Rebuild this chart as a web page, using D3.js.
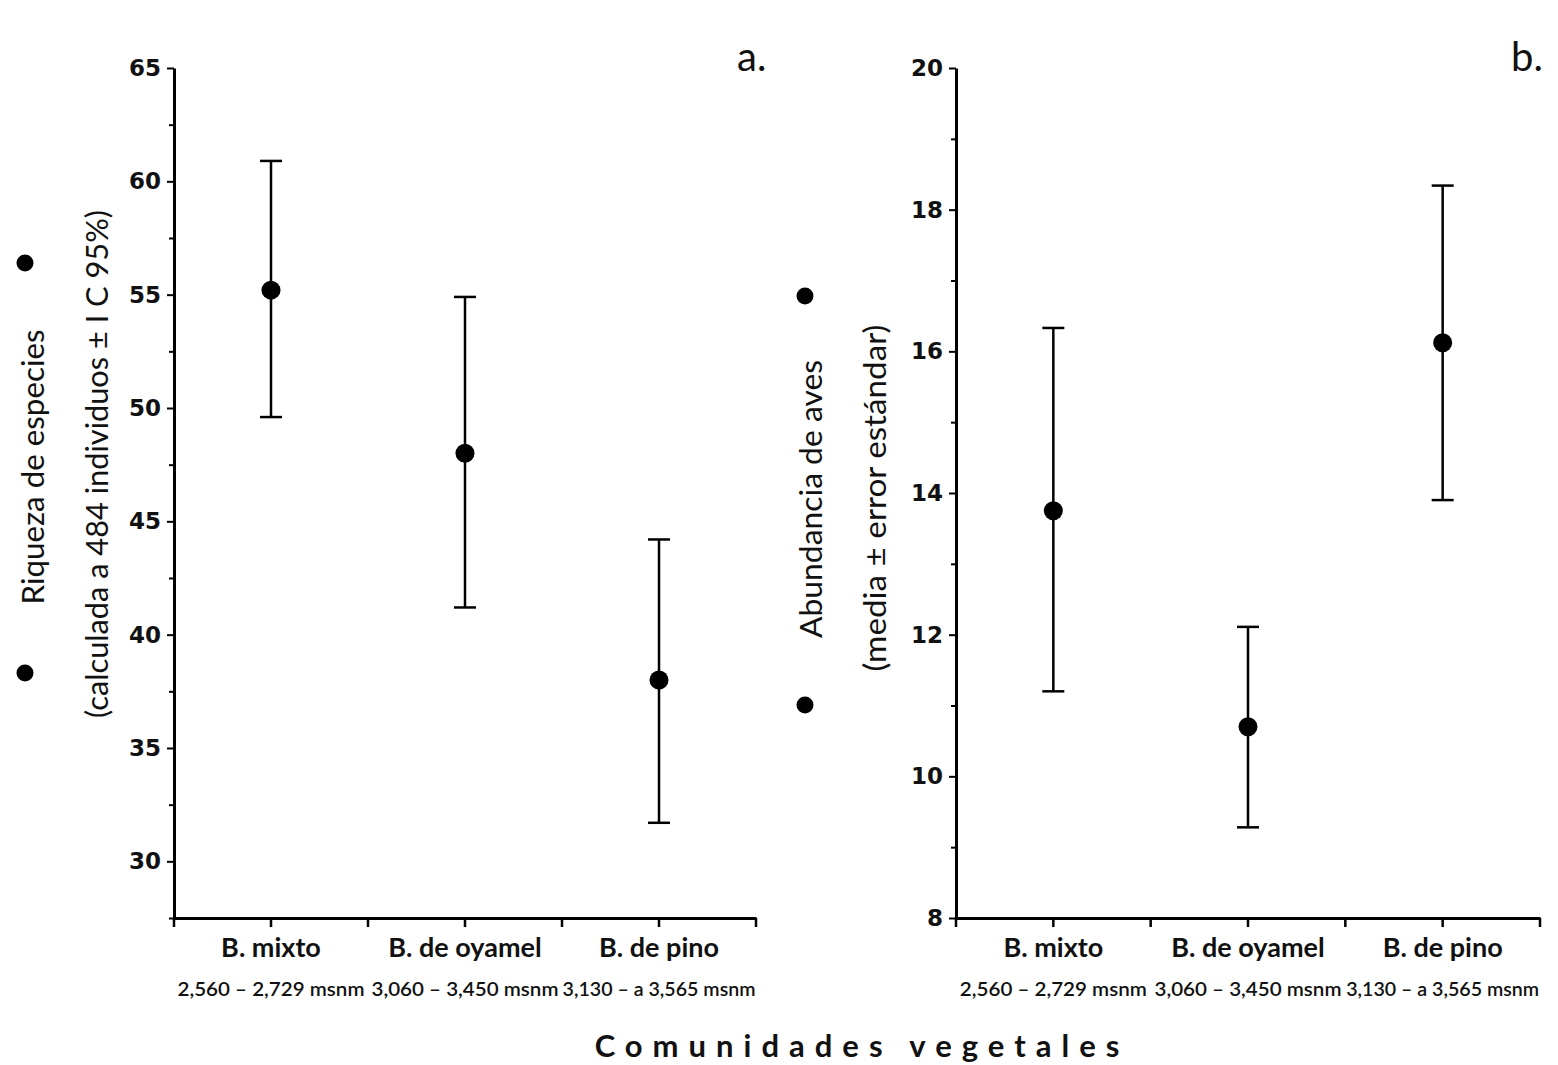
<!DOCTYPE html>
<html>
<head>
<meta charset="utf-8">
<script src="https://cdn.jsdelivr.net/npm/d3@7"></script>
<style>
  body { margin: 0; background: #fff; }
  svg { display: block; }
  .tick text { font-family: "DejaVu Sans", sans-serif; font-weight: bold; font-size: 23px; fill: #111; }
  .domain, .tick line { stroke: #000; }
</style>
</head>
<body>
<div id="chart"></div>
<script>
var width = 1558,
  height = 1065;

var categories = ["B. mixto", "B. de oyamel", "B. de pino"];
var elevations = ["2,560 – 2,729 msnm", "3,060 – 3,450 msnm", "3,130 – a 3,565 msnm"];

// panel a: riqueza (media, IC 95%)
var riquezaMean = [55.2, 48.0, 38.0];
var riquezaLow = [49.6, 41.2, 31.7];
var riquezaHigh = [60.9, 54.9, 44.2];
var riquezaTicks = [30, 35, 40, 45, 50, 55, 60, 65];
var riquezaMinor = [27.5, 32.5, 37.5, 42.5, 47.5, 52.5, 57.5, 62.5];

// panel b: abundancia (media ± EE)
var abundMean = [13.75, 10.7, 16.12];
var abundLow = [11.2, 9.28, 13.9];
var abundHigh = [16.33, 12.11, 18.34];
var abundTicks = [8, 10, 12, 14, 16, 18, 20];
var abundMinor = [9, 11, 13, 15, 17, 19];

var svg = d3.select("#chart").append("svg")
  .attr("width", width)
  .attr("height", height);

function drawPanel(opts) {
  var g = svg.append("g");

  var x = d3.scaleBand()
    .domain(categories)
    .range([opts.left, opts.right])
    .padding(0);

  var y = d3.scaleLinear()
    .domain(opts.domain)
    .range([918, 68]);

  // minor ticks first, then major with labels
  g.append("g")
    .attr("transform", "translate(" + opts.left + ",0)")
    .call(d3.axisLeft(y).tickValues(opts.minor).tickSize(5).tickFormat(""))
    .call(function (s) { s.select(".domain").remove(); })
    .selectAll("line").attr("stroke-width", 2);

  var yAxis = g.append("g")
    .attr("transform", "translate(" + opts.left + ",0)")
    .call(d3.axisLeft(y).tickValues(opts.ticks).tickSize(7).tickPadding(6).tickSizeOuter(0));
  yAxis.select(".domain").attr("stroke-width", 3);
  yAxis.selectAll(".tick line").attr("stroke-width", 2);

  // bottom axis: ticks at band centres and band edges
  var xAxis = g.append("g")
    .attr("transform", "translate(0,918)")
    .call(d3.axisBottom(x).tickSize(9).tickSizeOuter(0).tickFormat(""));
  xAxis.select(".domain").attr("stroke-width", 3);
  xAxis.selectAll(".tick line").attr("stroke-width", 2.5);

  var edges = categories.map(function (c) { return x(c); }).concat([x(categories[2]) + x.bandwidth()]);
  xAxis.selectAll(".edge").data(edges).enter().append("line")
    .attr("class", "edge")
    .attr("x1", function (d) { return d; })
    .attr("x2", function (d) { return d; })
    .attr("y1", 0).attr("y2", 9)
    .attr("stroke", "#000").attr("stroke-width", 2.5);

  var cx = function (i) { return x(categories[i]) + x.bandwidth() / 2; };

  g.selectAll(".cat").data(categories).enter().append("text")
    .attr("x", function (d, i) { return cx(i); })
    .attr("y", 957)
    .attr("text-anchor", "middle")
    .style("font-family", "Lato, sans-serif")
    .style("font-weight", "bold")
    .style("font-size", "27px")
    .style("fill", "#111")
    .text(function (d) { return d; });

  g.selectAll(".elev").data(elevations).enter().append("text")
    .attr("x", function (d, i) { return cx(i); })
    .attr("y", 996)
    .attr("text-anchor", "middle")
    .attr("textLength", function (d, i) { return i === 2 ? 193 : 187; })
    .attr("lengthAdjust", "spacingAndGlyphs")
    .style("font-family", "Lato, sans-serif")
    .style("font-weight", "600")
    .style("font-size", "19px")
    .style("fill", "#111")
    .text(function (d) { return d; });

  // error bars
  var bars = g.selectAll(".err").data(opts.mean).enter().append("g");
  bars.append("line")
    .attr("x1", function (d, i) { return cx(i); })
    .attr("x2", function (d, i) { return cx(i); })
    .attr("y1", function (d, i) { return y(opts.low[i]); })
    .attr("y2", function (d, i) { return y(opts.high[i]); })
    .attr("stroke", "#000").attr("stroke-width", 2.5);
  [opts.low, opts.high].forEach(function (arr) {
    bars.append("line")
      .attr("x1", function (d, i) { return cx(i) - 11; })
      .attr("x2", function (d, i) { return cx(i) + 11; })
      .attr("y1", function (d, i) { return y(arr[i]); })
      .attr("y2", function (d, i) { return y(arr[i]); })
      .attr("stroke", "#000").attr("stroke-width", 2.5);
  });
  bars.append("circle")
    .attr("cx", function (d, i) { return cx(i); })
    .attr("cy", function (d) { return y(d); })
    .attr("r", 9.5)
    .attr("fill", "#000");

  // y titles (two lines, rotated) and the marker dots
  opts.titles.forEach(function (t) {
    g.append("text")
      .attr("transform", "translate(" + t.x + "," + t.y + ") rotate(-90)")
      .attr("text-anchor", "middle")
      .attr("textLength", t.len)
      .attr("lengthAdjust", "spacingAndGlyphs")
      .style("font-family", "Lato, sans-serif")
      .style("font-size", "30px")
      .style("fill", "#111")
      .text(t.text);
  });
  opts.dots.forEach(function (d) {
    g.append("circle").attr("cx", d[0]).attr("cy", d[1]).attr("r", 8.5).attr("fill", "#000");
  });

  g.append("text")
    .attr("x", opts.letter[0]).attr("y", opts.letter[1])
    .style("font-family", "Lato, sans-serif")
    .style("font-size", "40px")
    .style("fill", "#111")
    .text(opts.letter[2]);
}

drawPanel({
  left: 174, right: 756,
  domain: [27.5, 65],
  ticks: riquezaTicks, minor: riquezaMinor,
  mean: riquezaMean, low: riquezaLow, high: riquezaHigh,
  titles: [
    { x: 44, y: 467, len: 275, text: "Riqueza de especies" },
    { x: 108, y: 464, len: 508, text: "(calculada a 484 individuos ± I C 95%)" }
  ],
  dots: [[25, 263], [25, 673]],
  letter: [737, 71, "a."]
});

drawPanel({
  left: 956, right: 1540,
  domain: [8, 20],
  ticks: abundTicks, minor: abundMinor,
  mean: abundMean, low: abundLow, high: abundHigh,
  titles: [
    { x: 822, y: 499, len: 278, text: "Abundancia de aves" },
    { x: 886, y: 498, len: 347, text: "(media ± error estándar)" }
  ],
  dots: [[805, 296], [805, 705]],
  letter: [1511, 71, "b."]
});

svg.append("text")
  .attr("x", 862).attr("y", 1057)
  .attr("text-anchor", "middle")
  .style("font-family", "Lato, sans-serif")
  .style("font-weight", "bold")
  .style("font-size", "31px")
  .style("letter-spacing", "10px")
  .style("fill", "#111")
  .text("Comunidades vegetales");
</script>
</body>
</html>
